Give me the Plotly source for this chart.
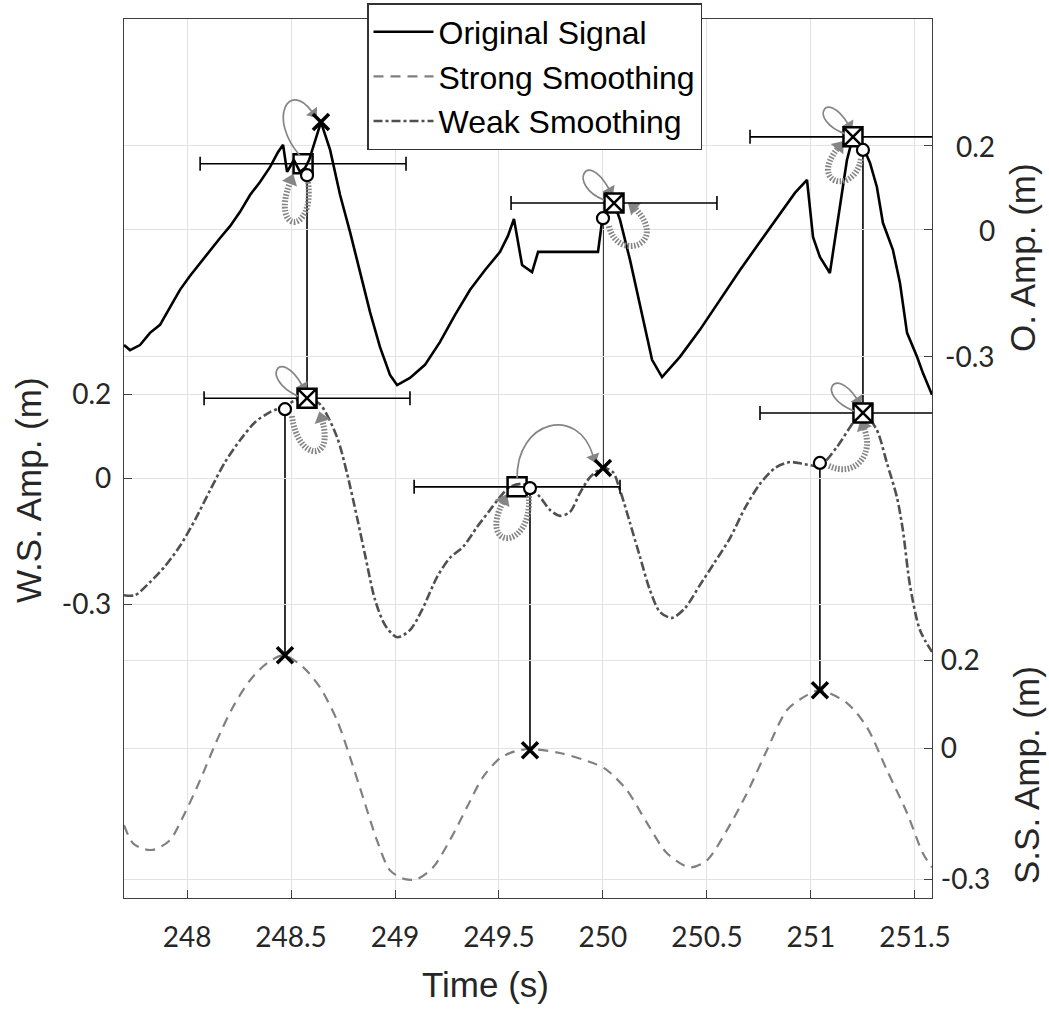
import plotly.graph_objects as go
import math

# ------------------------------------------------------------------ data
orig_t = [247.697, 247.726, 247.774, 247.822, 247.870, 247.918, 247.966, 248.014, 248.063, 248.111,
          248.159, 248.207, 248.255, 248.303, 248.351, 248.399, 248.438, 248.462, 248.481, 248.514,
          248.543, 248.567, 248.587, 248.644, 248.688, 248.736, 248.784, 248.832, 248.880, 248.928,
          248.976, 249.010, 249.072, 249.144, 249.216, 249.288, 249.361, 249.433, 249.505, 249.543,
          249.572, 249.611, 249.659, 249.688, 249.976, 249.995, 250.014, 250.053, 250.082, 250.130,
          250.192, 250.236, 250.284, 250.370, 250.466, 250.563, 250.659, 250.755, 250.851, 250.923,
          250.981, 251.010, 251.043, 251.091, 251.173, 251.202, 251.236, 251.284, 251.317, 251.346,
          251.394, 251.428, 251.462, 251.510, 251.538, 251.582]
orig_v = [-0.273, -0.285, -0.273, -0.244, -0.225, -0.183, -0.142, -0.109, -0.078, -0.047,
          -0.019, 0.009, 0.043, 0.083, 0.114, 0.149, 0.185, 0.202, 0.138, 0.166,
          0.138, 0.147, 0.166, 0.256, 0.190, 0.083, -0.005, -0.100, -0.195, -0.278,
          -0.344, -0.368, -0.351, -0.320, -0.266, -0.202, -0.142, -0.095, -0.052, -0.014,
          0.026, -0.083, -0.100, -0.052, -0.052, 0.019, 0.043, 0.064, 0.024, -0.071,
          -0.214, -0.308, -0.349, -0.301, -0.237, -0.166, -0.095, -0.028, 0.040, 0.088,
          0.119, -0.017, -0.064, -0.102, 0.166, 0.221, 0.214, 0.159, 0.102, 0.017,
          -0.047, -0.126, -0.244, -0.301, -0.339, -0.391]

ws_t = [247.697, 247.750, 247.822, 247.894, 247.966, 248.038, 248.111, 248.183, 248.255, 248.327,
        248.399, 248.471, 248.524, 248.577, 248.639, 248.721, 248.769, 248.817, 248.856, 248.904,
        248.952, 249.010, 249.072, 249.130, 249.202, 249.264, 249.327, 249.394, 249.457, 249.505,
        249.553, 249.615, 249.649, 249.697, 249.745, 249.793, 249.841, 249.889, 249.938, 250.000,
        250.048, 250.082, 250.130, 250.178, 250.226, 250.274, 250.332, 250.394, 250.466, 250.538,
        250.611, 250.683, 250.755, 250.827, 250.899, 250.971, 251.043, 251.125, 251.202, 251.250,
        251.317, 251.365, 251.413, 251.442, 251.476, 251.524, 251.582]
ws_v = [-0.279, -0.279, -0.248, -0.210, -0.162, -0.100, -0.029, 0.038, 0.090, 0.133,
        0.157, 0.171, 0.186, 0.190, 0.176, 0.098, 0.012, -0.093, -0.183, -0.290,
        -0.350, -0.379, -0.362, -0.314, -0.236, -0.190, -0.164, -0.117, -0.076, -0.045,
        -0.021, -0.014, -0.024, -0.045, -0.076, -0.090, -0.081, -0.036, 0.002, 0.024,
        0.014, -0.029, -0.107, -0.188, -0.267, -0.319, -0.333, -0.310, -0.255, -0.200,
        -0.143, -0.071, -0.014, 0.024, 0.038, 0.033, 0.029, 0.074, 0.131, 0.157,
        0.114, 0.036, -0.045, -0.124, -0.255, -0.362, -0.414]

ss_t = [247.697, 247.740, 247.798, 247.846, 247.918, 247.990, 248.063, 248.144, 248.221, 248.303,
        248.385, 248.466, 248.558, 248.639, 248.721, 248.784, 248.846, 248.913, 248.976, 249.048,
        249.106, 249.183, 249.264, 249.346, 249.423, 249.505, 249.577, 249.649, 249.793, 249.952,
        250.019, 250.115, 250.212, 250.308, 250.418, 250.500, 250.596, 250.692, 250.788, 250.885,
        250.981, 251.043, 251.173, 251.269, 251.365, 251.462, 251.538, 251.582]
ss_v = [-0.176, -0.217, -0.231, -0.231, -0.210, -0.148, -0.073, 0.018, 0.094, 0.155,
        0.194, 0.212, 0.185, 0.139, 0.064, -0.021, -0.112, -0.210, -0.279, -0.299,
        -0.299, -0.272, -0.210, -0.135, -0.066, -0.023, -0.007, -0.002, -0.011, -0.034,
        -0.050, -0.096, -0.171, -0.240, -0.272, -0.256, -0.187, -0.103, -0.005, 0.087,
        0.121, 0.132, 0.103, 0.048, -0.050, -0.148, -0.240, -0.272]

# search windows (centre of horizontal error bars) on each level
o_win_t = [248.558, 250.053, 251.202]
o_win_v = [0.157, 0.064, 0.221]
o_win_kind = ["square", "square-x", "square-x"]
ws_win_t = [248.577, 249.587, 251.250]
ws_win_v = [0.190, -0.021, 0.155]
ws_win_kind = ["square-x", "square", "square-x"]
win_half = 0.495

# detected peaks (x) and reference points (o)
o_peak_t = [248.644]
o_peak_v = [0.256]
o_ref_t = [248.577, 250.000, 251.250]
o_ref_v = [0.130, 0.028, 0.190]
ws_peak_t = [250.000]
ws_peak_v = [0.024]
ws_ref_t = [248.471, 249.649, 251.043]
ws_ref_v = [0.164, -0.024, 0.036]
ss_peak_t = [248.471, 249.649, 251.043]
ss_peak_v = [0.212, -0.005, 0.132]

x_ticks = [248, 248.5, 249, 249.5, 250, 250.5, 251, 251.5]
x_labels = ["248", "248.5", "249", "249.5", "250", "250.5", "251", "251.5"]
y_ticks = [-0.3, 0, 0.2]
y_labels = ["-0.3", "0", "0.2"]

# ------------------------------------------------------------------ layout constants
W, H = 1049, 1012
ML, MR, MT, MB = 124, 117, 19, 114
PW, PH = W - ML - MR, H - MT - MB
X_RNG = [247.697, 251.582]
RNG = {"y": [-1.0, 1.093], "y2": [-1.585, 0.5006], "y3": [-0.342, 1.664]}

TICK_FONT = dict(family="Lato, 'Open Sans', sans-serif", size=28, color="#262626")
TITLE_FONT = dict(family="'Liberation Sans', Arial, sans-serif", size=35, color="#262626")
GRID = "#e2e2e2"
AXLINE = "#404040"
ARROW_COL = "#858585"


def to_paper(v, ax):
    r = RNG[ax]
    return (v - r[0]) / (r[1] - r[0])


def shift(t, v, ax, dx, dy):
    """shift a data point by a pixel offset on the given y axis"""
    r = RNG[ax]
    return (t + dx * (X_RNG[1] - X_RNG[0]) / PW, v - dy * (r[1] - r[0]) / PH)


fig = go.Figure()

# ------------------------------------------------------------------ signals
fig.add_trace(go.Scatter(x=orig_t, y=orig_v, yaxis="y2", mode="lines", name="Original Signal",
                         line=dict(color="black", width=2.6)))
fig.add_trace(go.Scatter(x=ss_t, y=ss_v, yaxis="y3", mode="lines", name="Strong Smoothing",
                         line=dict(color="#808080", width=2.2, dash="10px,7px", shape="spline", smoothing=0.8)))
fig.add_trace(go.Scatter(x=ws_t, y=ws_v, yaxis="y", mode="lines", name="Weak Smoothing",
                         line=dict(color="#505050", width=2.6, dash="dashdot", shape="spline", smoothing=0.8)))

# ------------------------------------------------------------------ links between levels
shapes = []
for t, v_top, v_bot in zip(o_ref_t, o_ref_v, [ws_win_v[0], ws_peak_v[0], ws_win_v[2]]):
    shapes.append(dict(type="line", xref="x", yref="paper", x0=t, x1=t,
                       y0=to_paper(v_top, "y2"), y1=to_paper(v_bot, "y"),
                       line=dict(color="black", width=1.6), layer="between"))
for t, v_top, v_bot in zip(ws_ref_t, ws_ref_v, ss_peak_v):
    shapes.append(dict(type="line", xref="x", yref="paper", x0=t, x1=t,
                       y0=to_paper(v_top, "y"), y1=to_paper(v_bot, "y3"),
                       line=dict(color="black", width=1.6), layer="between"))

# ------------------------------------------------------------------ curved arrows (pixel offsets from anchor)
arrows = [
    # axis, anchor t, anchor v, control offsets, style, head angle
    ("y2", o_win_t[0], o_win_v[0], [(-3, -8), (-36, -46), (-14, -84), (9, -52)], "solid", 142),
    ("y2", o_ref_t[0], o_ref_v[0], [(1, 7), (8, 60), (-37, 60), (-17, 7)], "hatch", 21),
    ("y", ws_win_t[0], ws_win_v[0], [(-9, -2), (-48, -20), (-27, -52), (-5, -13)], "solid", 151),
    ("y", ws_ref_t[0], ws_ref_v[0], [(7, 7), (13, 53), (50, 53), (37, 11)], "hatch", -17),
    ("y2", o_win_t[1], o_win_v[1], [(-10, -3), (-47, -18), (-28, -55), (-5, -14)], "solid", 151),
    ("y2", o_ref_t[1], o_ref_v[1], [(6, 8), (14, 44), (67, 27), (32, -10)], "hatch", -52),
    ("y", ws_win_t[1], ws_win_v[1], [(0, -8), (-1, -67), (61, -82), (76, -31)], "solid", 160),
    ("y", ws_ref_t[1], ws_ref_v[1], [(-1, 8), (2, 64), (-52, 62), (-27, 14)], "hatch", 27),
    ("y2", o_win_t[2], o_win_v[2], [(-8, -3), (-46, -17), (-27, -49), (-5, -13)], "solid", 149),
    ("y2", o_ref_t[2], o_ref_v[2], [(-2, 9), (-8, 45), (-55, 35), (-25, -2)], "hatch", 39),
    ("y", ws_win_t[2], ws_win_v[2], [(-9, -2), (-48, -17), (-29, -49), (-6, -14)], "solid", 147),
    ("y", ws_ref_t[2], ws_ref_v[2], [(9, 3), (35, 15), (55, -8), (44, -35)], "hatch", -22),
]

head = {"y": {"solid": ([], [], []), "hatch": ([], [], [])},
        "y2": {"solid": ([], [], []), "hatch": ([], [], [])}}
for ax, t0, v0, pts, style, ang in arrows:
    p = [shift(t0, v0, ax, dx, dy) for dx, dy in pts]
    path = "M {},{} C {},{} {},{} {},{}".format(p[0][0], p[0][1], p[1][0], p[1][1],
                                                  p[2][0], p[2][1], p[3][0], p[3][1])
    if style == "solid":
        ln = dict(color=ARROW_COL, width=1.7)
    else:
        ln = dict(color=ARROW_COL, width=6, dash="1.6px,1.6px")
    shapes.append(dict(type="path", xref="x", yref=ax, path=path, line=ln, layer="above"))
    a = math.radians(ang)
    ex, ey = pts[3][0] + 2 * math.sin(a), pts[3][1] - 2 * math.cos(a)
    ht, hv = shift(t0, v0, ax, ex, ey)
    head[ax][style][0].append(ht)
    head[ax][style][1].append(hv)
    head[ax][style][2].append(ang)

for ax in head:
    for style, (ht, hv, ha) in head[ax].items():
        fig.add_trace(go.Scatter(x=ht, y=hv, yaxis=ax, mode="markers", showlegend=False,
                                 hoverinfo="skip",
                                 marker=dict(symbol="triangle-up", angle=ha, color=ARROW_COL,
                                             size=12 if style == "solid" else 14,
                                             line=dict(width=0))))


# ------------------------------------------------------------------ windows with error bars
def win_marker(kinds):
    return dict(symbol=[k if k == "square-x" else "square-open" for k in kinds],
                size=19,
                color=["white" if k == "square-x" else "black" for k in kinds],
                line=dict(color="black", width=2.5))


fig.add_trace(go.Scatter(x=o_win_t, y=o_win_v, yaxis="y2", mode="markers", showlegend=False,
                         error_x=dict(type="constant", value=win_half, color="black", thickness=1.6, width=7),
                         marker=win_marker(o_win_kind)))
fig.add_trace(go.Scatter(x=ws_win_t, y=ws_win_v, yaxis="y", mode="markers", showlegend=False,
                         error_x=dict(type="constant", value=win_half, color="black", thickness=1.6, width=7),
                         marker=win_marker(ws_win_kind)))

# reference circles
for tt, vv, ax in [(o_ref_t, o_ref_v, "y2"), (ws_ref_t, ws_ref_v, "y")]:
    fig.add_trace(go.Scatter(x=tt, y=vv, yaxis=ax, mode="markers", showlegend=False,
                             marker=dict(symbol="circle", size=12, color="white",
                                         line=dict(color="black", width=2.2))))
# peaks
for tt, vv, ax in [(o_peak_t, o_peak_v, "y2"), (ws_peak_t, ws_peak_v, "y"), (ss_peak_t, ss_peak_v, "y3")]:
    fig.add_trace(go.Scatter(x=tt, y=vv, yaxis=ax, mode="markers", showlegend=False,
                             marker=dict(symbol="x-thin", size=16, color="black",
                                         line=dict(color="black", width=3.5))))

# ------------------------------------------------------------------ annotations
ann = []
for val, lab in zip(y_ticks, y_labels):
    ann.append(dict(x=(997 - ML) / PW, xref="paper", y=val, yref="y2", text=lab, showarrow=False,
                    xanchor="right", yanchor="middle", font=TICK_FONT))
ann.append(dict(x=(28 - ML) / PW, y=(898 - 490) / PH, xref="paper", yref="paper", text="W.S. Amp. (m)",
                textangle=-90, showarrow=False, font=TITLE_FONT, xanchor="center", yanchor="middle"))
ann.append(dict(x=(1022 - ML) / PW, y=(898 - 258) / PH, xref="paper", yref="paper", text="O. Amp. (m)",
                textangle=-90, showarrow=False, font=TITLE_FONT, xanchor="center", yanchor="middle"))
ann.append(dict(x=(1026 - ML) / PW, y=(898 - 775) / PH, xref="paper", yref="paper", text="S.S. Amp. (m)",
                textangle=-90, showarrow=False, font=TITLE_FONT, xanchor="center", yanchor="middle"))
ann.append(dict(x=(485 - ML) / PW, y=(898 - 985) / PH, xref="paper", yref="paper", text="Time (s)",
                showarrow=False, font=TITLE_FONT, xanchor="center", yanchor="middle"))

common_y = dict(tickvals=y_ticks, ticktext=y_labels, ticks="inside", ticklen=8, tickcolor=AXLINE,
                showgrid=True, gridcolor=GRID, gridwidth=1, zeroline=False, showline=True,
                linecolor=AXLINE, linewidth=1.3, tickfont=TICK_FONT)

fig.update_layout(
    width=W, height=H,
    margin=dict(l=ML, r=MR, t=MT, b=MB, autoexpand=False),
    paper_bgcolor="white", plot_bgcolor="white",
    showlegend=True,
    legend=dict(x=(367 - ML) / PW, y=(898 - 3) / PH, xanchor="left", yanchor="top",
                bgcolor="white", bordercolor="#333333", borderwidth=1.5,
                font=dict(family="'Liberation Sans', Arial, sans-serif", size=32, color="black"),
                itemwidth=60, tracegroupgap=0),
    xaxis=dict(range=X_RNG, tickvals=x_ticks, ticktext=x_labels, ticks="inside", ticklen=8,
               tickcolor=AXLINE, showgrid=True, gridcolor=GRID, zeroline=False, showline=True,
               mirror=True, linecolor=AXLINE, linewidth=1.3, tickfont=TICK_FONT, ticklabelstandoff=14),
    yaxis=dict(range=RNG["y"], side="left", ticklabelstandoff=6, **common_y),
    yaxis2=dict(range=RNG["y2"], side="right", overlaying="y", anchor="x", showticklabels=False, **common_y),
    yaxis3=dict(range=RNG["y3"], side="right", overlaying="y", anchor="x", ticklabelstandoff=2, **common_y),
    shapes=shapes,
    annotations=ann,
)

fig.write_html("out.html")
